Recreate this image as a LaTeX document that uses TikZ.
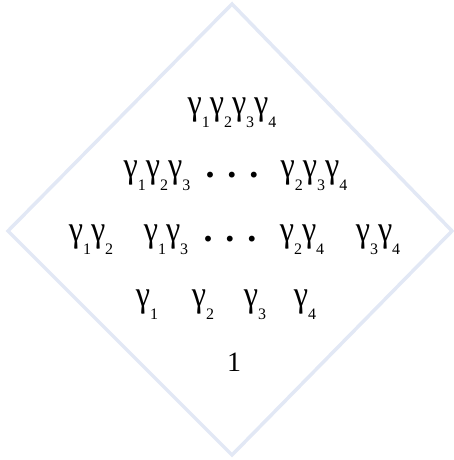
\documentclass[tikz,border=0pt]{standalone}
\usepackage{fontspec}
\setmainfont{Liberation Serif}
\usepackage{graphicx}
\usepackage{tikz}
\usetikzlibrary{positioning}
\usepackage{xcolor}
\definecolor{paleblue}{RGB}{226,232,245}
\newcommand{\gm}{\raisebox{5.5pt}{\scalebox{1.15}[1.3]{γ}}}
\newcommand{\gs}[1]{\gm\raisebox{-8pt}{\fontsize{16}{17}\selectfont #1}}
\newcommand{\dotgap}{\raisebox{5pt}{.\hspace{13pt}.\hspace{13pt}.}}
\tikzset{
  term/.style={inner sep=0pt, anchor=base, font=\fontsize{28}{30}\selectfont},
  dotrow/.style={term, font=\fontsize{36}{38}\selectfont\bfseries},
  frame/.style={draw=paleblue, line width=3.5pt, line join=miter},
}
\begin{document}
\begin{tikzpicture}[x=1pt, y=1pt]
\useasboundingbox (0,0) rectangle (454,460);
\draw[frame] (232,456) -- (452,229) -- (232,5) -- (8,229) -- cycle;
% top
\node[term] (r1) at (232,340) {\gs1\gs2\gs3\gs4};
% triples
\node[term] (r2a) at (157,277) {\gs1\gs2\gs3};
\node[dotrow] (r2dots) at (232,277) {\dotgap};
\node[term] (r2b) at (314,277) {\gs2\gs3\gs4};
% pairs
\node[term] (r3a) at (91,213) {\gs1\gs2};
\node[term] (r3b) at (166,213) {\gs1\gs3};
\node[dotrow] (r3dots) at (230,213) {\dotgap};
\node[term] (r3c) at (302,213) {\gs2\gs4};
\node[term] (r3d) at (378,213) {\gs3\gs4};
% singles
\node[term] (g1) at (147,148) {\gs1};
\node[term] (g2) at (203,148) {\gs2};
\node[term] (g3) at (255,148) {\gs3};
\node[term] (g4) at (305,148) {\gs4};
\node[term] (one) at (234,88) {1};
\end{tikzpicture}
\end{document}
